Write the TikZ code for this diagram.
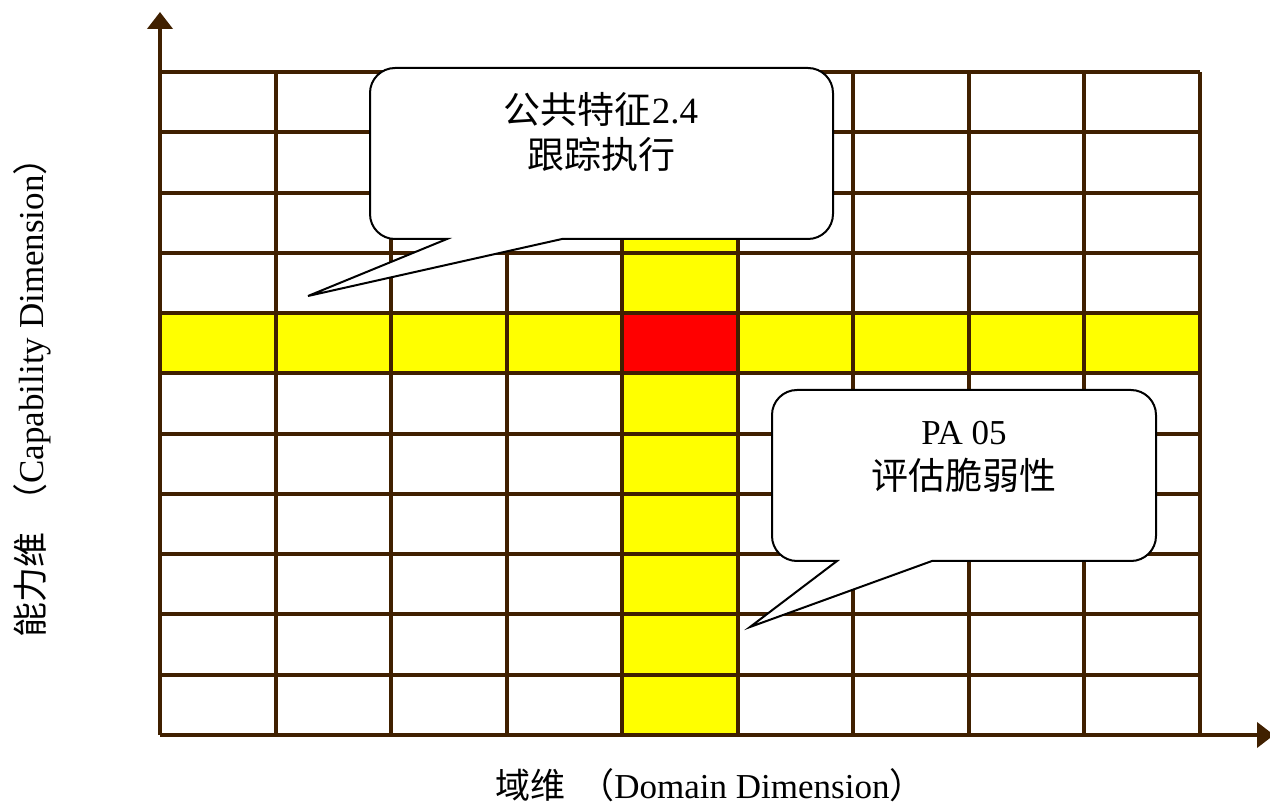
\documentclass[tikz,border=0pt]{standalone}
\usepackage{fontspec}
\setmainfont{Liberation Serif}
\newfontfamily\cjk{Noto Sans CJK SC}
\usetikzlibrary{arrows.meta}
\definecolor{gridbrown}{RGB}{64,32,0}
\definecolor{hiyellow}{RGB}{255,255,0}
\definecolor{hired}{RGB}{255,0,0}
\begin{document}
\begin{tikzpicture}[x=0.5pt,y=-0.5pt,
  gridline/.style={draw=gridbrown,line width=2pt},
  axisline/.style={draw=gridbrown,line width=2pt,-{Triangle[width=12.5pt,length=8.5pt]}},
  calloutbox/.style={draw=black,fill=white,line width=1pt,rounded corners=12.5pt},
  labeltext/.style={font=\fontsize{18.5}{22.5}\selectfont,align=center,inner sep=0pt},
  axislabel/.style={font=\fontsize{17.5}{22}\selectfont,inner sep=0pt}]
\useasboundingbox (0,0) rectangle (1270,807);
% highlighted row and column
\fill[hiyellow] (160,313.1) rectangle (1199.5,373.4);
\fill[hiyellow] (622,72) rectangle (737.5,735);
\fill[hired] (622,313.1) rectangle (737.5,373.4);
% grid
\foreach \i in {1,...,9} \draw[gridline] (160+115.5*\i,72) -- (160+115.5*\i,735);
\foreach \j in {0,...,10} \draw[gridline] (160,72+60.27*\j) -- (1199.5,72+60.27*\j);
% axes
\coordinate (O) at (160,735);
\coordinate (Ytop) at (160,12);
\coordinate (Xend) at (1274,735);
\draw[axisline] (O) -- (Ytop);
\draw[axisline] (O) -- (Xend);
% callout 1
\coordinate (t1) at (308,296);
\draw[calloutbox] (601,68) -- (833,68) -- (833,239) [sharp corners] -- (562,239) -- (t1) -- (447,239) [rounded corners=12.5pt] -- (370,239) -- (370,68) -- cycle;
\node[labeltext] (c1) at (601,131.5) {{\cjk 公共特征}2.4\\{\cjk 跟踪执行}};
% callout 2
\coordinate (t2) at (750,627);
\draw[calloutbox] (964,390) -- (1156,390) -- (1156,561) [sharp corners] -- (932,561) -- (t2) -- (837,561) [rounded corners=12.5pt] -- (772,561) -- (772,390) -- cycle;
\node[labeltext] (c2) at (964,457) {{\fontsize{17.5}{22.5}\selectfont PA 05}\\{\cjk 评估脆弱性}};
% axis labels
\node[axislabel,anchor=base] (xl) at (710,798) {{\cjk 域维\hspace{7pt}（}Domain Dimension{\cjk ）}};
\node[axislabel,rotate=90,anchor=base] (yl) at (43,389) {{\cjk 能力维\hspace{7pt}（}Capability Dimension{\cjk ）}};
\end{tikzpicture}
\end{document}
